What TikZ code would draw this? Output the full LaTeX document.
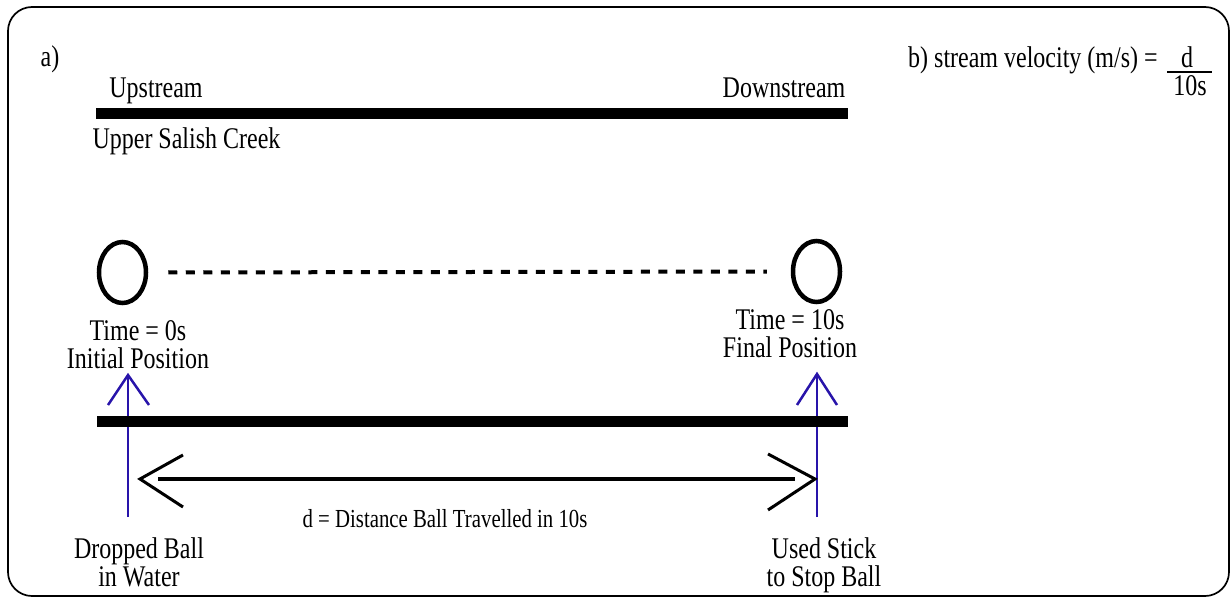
\documentclass[tikz,border=0pt]{standalone}
\usepackage{fontspec}
\setmainfont{Liberation Serif}[FakeStretch=0.8]
\usetikzlibrary{shapes.geometric}
\definecolor{stickblue}{RGB}{40,20,170}
\tikzset{
  lbl/.style={inner sep=0pt, font=\fontsize{30}{28}\selectfont, align=center},
  bar/.style={line width=11pt, line cap=butt},
  ball/.style={draw, ellipse, line width=4.5pt, minimum width=47pt, minimum height=61pt, inner sep=0pt},
  dashconn/.style={line width=4pt, dash pattern=on 9pt off 8.5pt},
  shaft/.style={line width=4.5pt},
  barb/.style={line width=3pt, line join=miter},
  stick/.style={stickblue, line width=2.5pt},
  frame/.style={line width=1.7pt, rounded corners=24pt}
}
\begin{document}
\begin{tikzpicture}[x=1pt,y=-1pt]
\useasboundingbox (0,0) rectangle (1231,597);
\draw[frame] (8,7) rectangle (1229,596);
% labels
\node[lbl, anchor=base] (a) at (50,66) {a)};
\node[lbl, anchor=base] (up) at (156,97) {Upstream};
\node[lbl, anchor=base] (down) at (784,97) {Downstream};
\node[lbl, anchor=base] (creek) at (186.5,148) {Upper Salish Creek};
% bars
\coordinate (tb1) at (96,113.5);
\coordinate (tb2) at (848,113.5);
\draw[bar] (tb1) -- (tb2);
\coordinate (bb1) at (97,421);
\coordinate (bb2) at (848,421);
% sticks
\coordinate (s1b) at (128,517);
\coordinate (s1t) at (128,375);
\coordinate (s2b) at (817,517);
\coordinate (s2t) at (817,374);
\draw[stick] (s1b) -- (s1t);
\draw[stick] ([xshift=-20pt,yshift=-30pt]s1t) -- (s1t) -- ([xshift=21pt,yshift=-30pt]s1t);
\draw[stick] (s2b) -- (s2t);
\draw[stick] ([xshift=-20pt,yshift=-31pt]s2t) -- (s2t) -- ([xshift=20pt,yshift=-31pt]s2t);
\draw[bar] (bb1) -- (bb2);
% balls
\node[ball] (ballA) at (122.5,272.5) {};
\node[ball] (ballB) at (816.5,271.5) {};
\draw[dashconn, shorten <=20pt, shorten >=24pt] (ballA.east) -- (ballB.west);
\node[lbl, anchor=base] (t0) at (138,368) {Time = 0s\\Initial Position};
\node[lbl, anchor=base] (t10) at (790,357) {Time = 10s\\Final Position};
% distance arrow
\coordinate (dL) at (140,479);
\coordinate (dR) at (815,479);
\draw[shaft, shorten <=18pt, shorten >=20pt] (dL) -- (dR);
\draw[barb] ([xshift=43pt,yshift=24pt]dL) -- (dL) -- ([xshift=43pt,yshift=-28pt]dL);
\draw[barb] ([xshift=-47pt,yshift=25pt]dR) -- (dR) -- ([xshift=-47pt,yshift=-31pt]dR);
\node[lbl, anchor=base, font=\fontsize{26}{26}\selectfont] (dist) at (445,527) {d = Distance Ball Travelled in 10s};
\node[lbl, anchor=base] (drop) at (139,586) {Dropped Ball\\in Water};
\node[lbl, anchor=base] (used) at (824,586) {Used Stick\\to Stop Ball};
% b)
\node[lbl, anchor=base west] (b) at (908,67) {b) stream velocity (m/s) =};
\node[lbl, anchor=base] (num) at (1187,67) {d};
\coordinate (f1) at (1167,72);
\coordinate (f2) at (1212,72);
\draw[line width=1.5pt] (f1) -- (f2);
\node[lbl, anchor=base] (den) at (1190,95) {10s};
\end{tikzpicture}
\end{document}
